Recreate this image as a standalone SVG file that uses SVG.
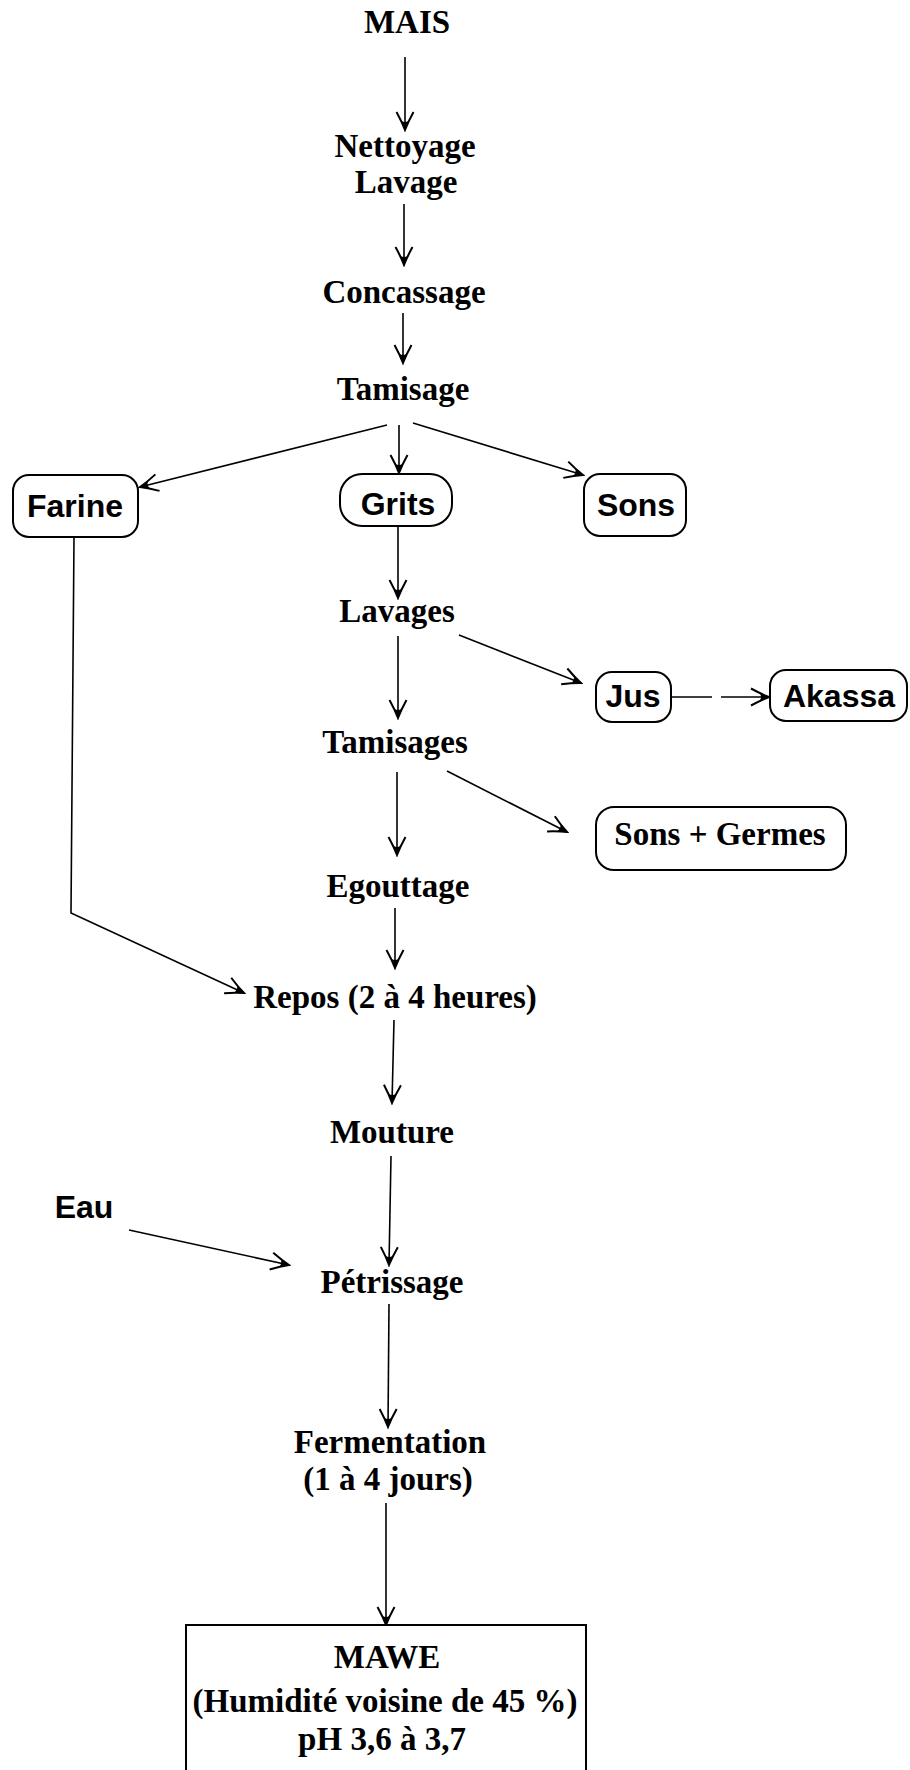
<svg xmlns="http://www.w3.org/2000/svg" width="910" height="1770" viewBox="0 0 910 1770">
<defs>
<style>
.s{font-family:"Liberation Serif","Times New Roman",serif;font-weight:bold;font-size:33px;fill:#000;text-anchor:middle}
.h{font-family:"Liberation Sans",Arial,sans-serif;font-weight:bold;font-size:32px;fill:#000;text-anchor:middle}
.b{fill:#fff;stroke:#000;stroke-width:2}
.c{fill:none;stroke:#000;stroke-width:1.6}
</style>
<marker id="ah" markerUnits="userSpaceOnUse" markerWidth="22" markerHeight="22" viewBox="0 0 22 22" refX="20" refY="11" orient="auto">
<path d="M2,2.5 Q12,8 20,11 Q12,14 2,19.5" fill="none" stroke="#000" stroke-width="2"/>
<path d="M11,7.5 L20,11 L11,14.5 Q13,11 11,7.5 Z" fill="#000"/>
</marker>
</defs>
<rect width="910" height="1770" fill="#fff"/>
<g id="connectors">
<line class="c" x1="405" y1="57" x2="405" y2="130" marker-end="url(#ah)"/>
<line class="c" x1="404" y1="204" x2="404" y2="265" marker-end="url(#ah)"/>
<line class="c" x1="403" y1="313" x2="403" y2="363" marker-end="url(#ah)"/>
<line class="c" x1="387" y1="425" x2="140" y2="487" marker-end="url(#ah)"/>
<line class="c" x1="399" y1="425" x2="399" y2="473" marker-end="url(#ah)"/>
<line class="c" x1="413" y1="423" x2="583" y2="475" marker-end="url(#ah)"/>
<line class="c" x1="398" y1="527" x2="398" y2="598" marker-end="url(#ah)"/>
<line class="c" x1="459" y1="635" x2="581" y2="683" marker-end="url(#ah)"/>
<line class="c" x1="398" y1="636" x2="398" y2="718" marker-end="url(#ah)"/>
<line class="c" x1="671" y1="697" x2="712" y2="697"/>
<line class="c" x1="721" y1="697" x2="769" y2="697" marker-end="url(#ah)"/>
<line class="c" x1="447" y1="771" x2="567" y2="832" marker-end="url(#ah)"/>
<line class="c" x1="397" y1="772" x2="397" y2="855" marker-end="url(#ah)"/>
<line class="c" x1="395" y1="908" x2="395" y2="968" marker-end="url(#ah)"/>
<polyline class="c" points="74,538 71,913 244,993" marker-end="url(#ah)"/>
<line class="c" x1="394" y1="1020" x2="392" y2="1103" marker-end="url(#ah)"/>
<line class="c" x1="391" y1="1156" x2="389" y2="1265" marker-end="url(#ah)"/>
<line class="c" x1="129" y1="1230" x2="289" y2="1265" marker-end="url(#ah)"/>
<line class="c" x1="389" y1="1304" x2="388" y2="1427" marker-end="url(#ah)"/>
<line class="c" x1="386" y1="1503" x2="386" y2="1625" marker-end="url(#ah)"/>
</g>
<g id="mais"><text class="s" x="407" y="33">MAIS</text></g>
<g id="nettoyage"><text class="s" x="405" y="157">Nettoyage</text><text class="s" x="406" y="193">Lavage</text></g>
<g id="concassage"><text class="s" x="404" y="303">Concassage</text></g>
<g id="tamisage"><text class="s" x="403" y="400">Tamisage</text></g>
<g id="farine"><rect class="b" x="13" y="475" width="125" height="62" rx="16"/><text class="h" x="75" y="517">Farine</text></g>
<g id="grits"><rect class="b" x="340" y="474" width="112" height="52" rx="22"/><text class="h" x="398" y="515">Grits</text></g>
<g id="sons"><rect class="b" x="584" y="474" width="102" height="62" rx="16"/><text class="h" x="636" y="516">Sons</text></g>
<g id="lavages"><text class="s" x="397" y="622">Lavages</text></g>
<g id="jus"><rect class="b" x="596" y="672" width="75" height="50" rx="16"/><text class="h" x="633" y="707">Jus</text></g>
<g id="akassa"><rect class="b" x="770" y="670" width="137" height="51" rx="16"/><text class="h" x="839" y="707">Akassa</text></g>
<g id="tamisages"><text class="s" x="395" y="753">Tamisages</text></g>
<g id="sonsgermes"><rect class="b" x="596" y="807" width="250" height="63" rx="18"/><text class="s" x="720" y="845">Sons + Germes</text></g>
<g id="egouttage"><text class="s" x="398" y="897">Egouttage</text></g>
<g id="repos"><text class="s" x="395" y="1008">Repos (2 à 4 heures)</text></g>
<g id="mouture"><text class="s" x="392" y="1143">Mouture</text></g>
<g id="eau"><text class="h" x="84" y="1218">Eau</text></g>
<g id="petrissage"><text class="s" x="392" y="1293">Pétrissage</text></g>
<g id="fermentation"><text class="s" x="390" y="1453">Fermentation</text><text class="s" x="388" y="1490">(1 à 4 jours)</text></g>
<g id="mawe"><rect class="b" x="186" y="1625" width="400" height="170"/><text class="s" x="387" y="1668">MAWE</text><text class="s" x="385" y="1712">(Humidité voisine de 45 %)</text><text class="s" x="382" y="1750">pH 3,6 à 3,7</text></g>
</svg>
